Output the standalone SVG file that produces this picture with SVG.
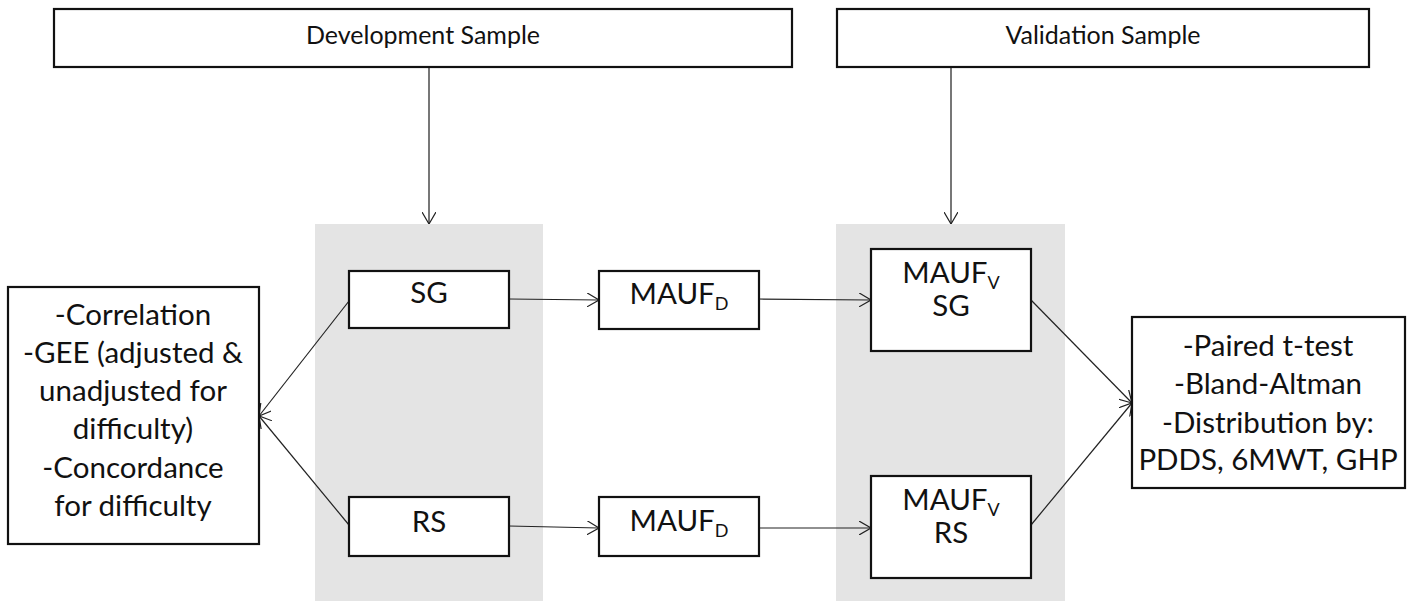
<svg xmlns="http://www.w3.org/2000/svg" width="1410" height="601" viewBox="0 0 1410 601">
<defs>
<style>
.box{fill:#fff;stroke:#111;stroke-width:2.2}
.panel{fill:#e4e4e4}
.t{font-family:Lato,"Liberation Sans",sans-serif;fill:#111;text-anchor:middle}
.top{font-size:25px}
.big{font-size:29.5px}
.sub{font-size:18px}
.c{fill:none;stroke:#222;stroke-width:1.2}
.cv{fill:none;stroke:#555;stroke-width:1.6}
</style>
<marker id="ah" viewBox="0 0 12 14" refX="12" refY="7" markerWidth="12" markerHeight="14" markerUnits="userSpaceOnUse" orient="auto">
<path d="M0,0 L12,7 L0,14" fill="none" stroke="#222" stroke-width="1.2"/>
</marker>
</defs>
<rect class="panel" x="315" y="224" width="228" height="377"/>
<rect class="panel" x="836" y="224" width="229" height="377"/>
<g id="connectors">
<line class="cv" x1="429" y1="67" x2="429" y2="224" marker-end="url(#ah)"/>
<line class="cv" x1="951" y1="67" x2="951" y2="224" marker-end="url(#ah)"/>
<line class="c" x1="509" y1="299" x2="599" y2="300" marker-end="url(#ah)"/>
<line class="c" x1="759" y1="299" x2="871" y2="300" marker-end="url(#ah)"/>
<line class="c" x1="509" y1="526" x2="599" y2="528" marker-end="url(#ah)"/>
<line class="c" x1="759" y1="528" x2="871" y2="528" marker-end="url(#ah)"/>
<line class="c" x1="349" y1="301" x2="259" y2="416" marker-end="url(#ah)"/>
<line class="c" x1="349" y1="525" x2="259" y2="416" marker-end="url(#ah)"/>
<line class="c" x1="1031" y1="300" x2="1132" y2="403" marker-end="url(#ah)"/>
<line class="c" x1="1031" y1="525" x2="1132" y2="403" marker-end="url(#ah)"/>
</g>
<g id="dev">
<rect class="box" x="54" y="9" width="738" height="58"/>
<text class="t top" x="423" y="44">Development Sample</text>
</g>
<g id="val">
<rect class="box" x="837" y="9" width="532" height="58"/>
<text class="t top" x="1103" y="44">Validation Sample</text>
</g>
<g id="left">
<rect class="box" x="8" y="287" width="251" height="257"/>
<text class="t big" x="133" y="325">-Correlation</text>
<text class="t big" x="133" y="363">-GEE (adjusted &amp;</text>
<text class="t big" x="133" y="401">unadjusted for</text>
<text class="t big" x="133" y="439">difficulty)</text>
<text class="t big" x="133" y="478">-Concordance</text>
<text class="t big" x="133" y="516">for difficulty</text>
</g>
<g id="sg">
<rect class="box" x="349" y="271" width="160" height="57"/>
<text class="t big" x="429" y="303">SG</text>
</g>
<g id="rs">
<rect class="box" x="349" y="497" width="160" height="59"/>
<text class="t big" x="429" y="532">RS</text>
</g>
<g id="maufd1">
<rect class="box" x="599" y="271" width="160" height="58"/>
<text class="t big" x="679" y="304">MAUF<tspan class="sub" dy="6">D</tspan></text>
</g>
<g id="maufd2">
<rect class="box" x="599" y="497" width="160" height="59"/>
<text class="t big" x="679" y="531">MAUF<tspan class="sub" dy="6">D</tspan></text>
</g>
<g id="maufv1">
<rect class="box" x="871" y="249" width="160" height="102"/>
<text class="t big" x="951" y="283">MAUF<tspan class="sub" dy="6">V</tspan></text>
<text class="t big" x="951" y="316">SG</text>
</g>
<g id="maufv2">
<rect class="box" x="871" y="476" width="160" height="102"/>
<text class="t big" x="951" y="510">MAUF<tspan class="sub" dy="6">V</tspan></text>
<text class="t big" x="951" y="543">RS</text>
</g>
<g id="right">
<rect class="box" x="1132" y="317" width="273" height="171"/>
<text class="t big" x="1268" y="356">-Paired t-test</text>
<text class="t big" x="1268" y="394">-Bland-Altman</text>
<text class="t big" x="1268" y="433">-Distribution by:</text>
<text class="t big" x="1268" y="470">PDDS, 6MWT, GHP</text>
</g>
</svg>
